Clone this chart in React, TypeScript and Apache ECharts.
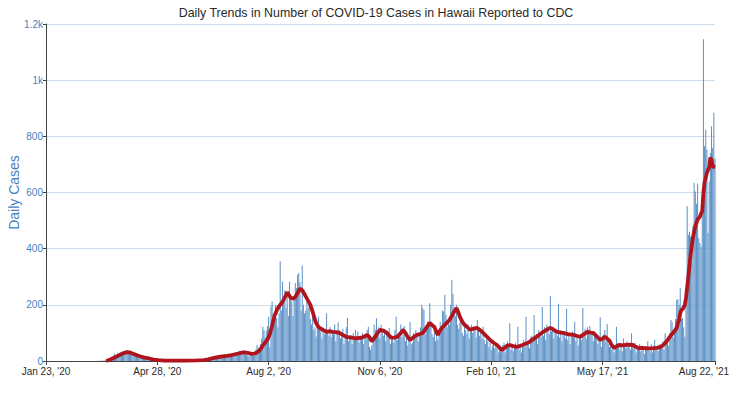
import React, { useEffect, useRef } from "react";
import * as echarts from "echarts";

// Daily cases, one value per day starting Jan 23, 2020 (day 0)
const cases2020: number[] = [
  0,0,0,0,0,0,0,0,0,0, 0,0,0,0,0,0,0,0,0,0, 0,0,0,0,0,0,0,0,0,0, 0,0,0,0,0,0,0,0,0,0,
  0,0,0,0,1,0,1,0,2,1,
  2,3,4,6,7,8,14,10,18,26,
  20,15,29,25,30,33,34,28,25,31,
  38,36,28,24,26,22,30,24,18,14,
  12,16,14,10,12,9,8,6,5,7,
  4,3,2,3,1,2,1,0,2,1,
  1,0,2,1,0,1,3,0,1,0,
  0,1,1,0,2,0,1,2,0,1,
  2,0,1,3,4,1,2,5,2,1,
  3,2,5,4,6,3,2,7,8,4,
  10,7,12,15,9,6,16,11,18,14,
  12,20,17,9,15,24,22,18,13,26,
  24,28,17,20,32,30,23,36,29,24,
  38,33,22,25,20,19,30,24,21,18,
  28,40,57,45,50,60,80,122,110,85,
  109,124,158,49,194,212,140,170,200,153,
  120,170,355,180,283,220,253,190,242,160,
  282,230,212,160,225,278,260,307,313,280,
  180,340,200,170,180,210,190,200,150,130,
  188,110,120,87,125,158,110,105,80,120,
  95,115,170,100,90,120,85,111,95,130,
  70,100,137,110,80,95,115,60,90,120,
  153,70,80,93,60,100,80,110,75,105,
  65,90,80,99,60,95,85,110,122,50,
  40,55,90,130,110,152,100,120,80,129,
  110,90,105,70,95,85,118,60,75,90,
  65,110,158,75,100,95,130,85,118,125,
  70,90,55,80,140,60,65,100,85,110,
  100,70,90,120,200,188,182,95,110,140,
  120,206,130,95,85,110,70,111,75,100,
  140,125,179,176,
];

// Daily cases, Jan 1, 2021 (day 344) to Aug 22, 2021 (day 577)
const cases2021: number[] = [
  236,164,120,150,130,200,
  289,239,180,160,200,130,115,140,146,100,
  90,122,110,95,130,80,105,129,100,120,
  110,85,146,120,90,100,80,122,75,60,
  90,70,50,65,40,55,70,45,60,45,
  30,50,35,40,57,65,30,45,70,55,
  134,40,60,35,50,65,45,122,40,55,
  30,60,75,50,158,60,70,45,85,90,
  70,164,75,95,60,110,100,85,192,90,
  120,75,130,110,95,232,105,120,80,115,
  100,90,204,85,110,70,100,95,80,185,
  75,100,60,90,105,85,140,70,95,55,
  80,90,75,190,100,115,80,120,110,125,
  95,105,70,90,100,85,60,80,156,50,
  75,95,110,70,132,60,50,75,40,55,
  30,45,122,50,60,40,65,35,80,55,
  45,70,50,60,40,99,55,45,65,30,
  50,40,60,35,55,45,25,50,40,70,
  45,35,60,30,55,75,40,50,35,60,
  45,55,70,40,99,65,80,55,100,146,
  140,85,120,150,218,220,200,259,150,153,
  120,86,200,551,450,460,443,350,480,634,
  604,560,632,438,420,408,560,1146,765,824,
  753,457,640,741,836,759,884,720,
];

// 7-day moving average (day index, value)
const avgDays: number[] = [
  52,56,60,64,67,70,72,75,78,81,
  85,89,93,97,102,110,120,130,136,140,
  144,148,152,156,160,164,168,171,174,178,
  181,183,185,187,189,191,193,195,197,199,
  201,203,205,207,208,210,211,213,215,217,
  219,221,223,224,226,228,230,232,233,235,
  238,242,245,247,250,253,256,259,262,265,
  268,271,274,277,279,281,283,286,288,291,
  294,296,298,300,303,305,308,310,312,314,
  317,320,323,325,328,331,333,335,337,338,
  340,342,345,348,351,354,355,357,359,361,
  364,366,369,372,375,377,380,383,386,389,
  391,393,396,398,400,403,406,409,411,414,
  417,420,423,426,429,432,435,437,439,441,
  444,446,450,455,458,461,464,467,470,472,
  475,478,480,482,484,486,488,490,492,494,
  497,500,503,506,508,511,514,517,520,524,
  527,530,532,534,536,538,540,543,544,545,
  546,547,548,549,551,552,554,556,558,560,
  562,564,566,567,568,570,572,573,574,575,
  577,
];
const avgValues: number[] = [
  0,6,14,22,28,32,31,26,21,17,
  12,9,5,3,1,1,1,2,3,6,
  10,14,16,18,21,25,29,31,29,25,
  28,33,42,55,66,76,95,125,160,180,
  195,205,218,235,245,232,225,222,228,242,
  258,252,238,230,215,200,175,146,135,121,
  112,104,106,104,103,100,93,86,84,82,
  81,82,86,93,85,70,80,100,111,108,
  100,90,82,83,86,95,111,100,85,75,
  85,93,97,100,118,136,128,121,100,93,
  110,121,133,146,168,189,180,157,140,129,
  118,111,116,118,108,100,88,75,65,57,
  48,39,48,55,57,53,50,54,57,62,
  68,77,86,95,104,112,118,114,108,104,
  101,100,96,93,89,86,96,104,101,100,
  88,75,80,86,80,72,56,46,52,57,
  56,57,58,57,52,46,47,46,45,46,
  47,50,56,64,74,86,96,111,118,135,
  146,170,182,184,200,225,300,380,440,480,
  504,514,535,600,636,670,690,725,715,693,
  689,
];

const xTickDays: number[] = [0, 96, 192, 288, 384, 480, 577];
const xTickLabels: string[] = ["Jan 23, '20", "Apr 28, '20", "Aug 2, '20", "Nov 6, '20", "Feb 10, '21", "May 17, '21", "Aug 22, '21"];
const yTickValues: number[] = [0, 200, 400, 600, 800, 1000, 1200];
const yTickLabels: string[] = ["0", "200", "400", "600", "800", "1k", "1.2k"];

const TITLE = "Daily Trends in Number of COVID-19 Cases in Hawaii Reported to CDC";
const FONT = "'Liberation Sans', Arial, Helvetica, sans-serif";

export default function App() {
  const ref = useRef<HTMLDivElement>(null);
  useEffect(() => {
    if (!ref.current) return;
    const chart = echarts.init(ref.current, undefined, { renderer: "svg" });
    const daily = cases2020.concat(cases2021);
    const barData = daily.map((v, i) => [i, v]);
    const n = Math.min(avgDays.length, avgValues.length);
    const lineData: number[][] = [];
    for (let i = 0; i < n; i++) lineData.push([avgDays[i], avgValues[i]]);
    const lastIdx = xTickDays.length - 1;
    chart.setOption({
      animation: false,
      backgroundColor: "#ffffff",
      title: {
        text: TITLE,
        left: 371,
        textAlign: "center",
        top: 2,
        textStyle: { fontFamily: FONT, fontSize: 12.4, fontWeight: "normal", color: "#2a2a2a" },
      },
      grid: { left: 46, right: 15, top: 24, bottom: 36, containLabel: false, outerBoundsMode: "none" },
      xAxis: {
        type: "value",
        min: 0,
        max: 577,
        splitLine: { show: false },
        axisLine: { show: true, lineStyle: { color: "#444", width: 1 } },
        axisTick: { show: true, length: 4, customValues: xTickDays, lineStyle: { color: "#444" } },
        axisLabel: {
          customValues: xTickDays,
          formatter: (v: number) => {
            const idx = xTickDays.indexOf(Math.round(v));
            if (idx < 0) return "";
            return idx === lastIdx ? "{last|" + xTickLabels[idx] + "}" : xTickLabels[idx];
          },
          rich: {
            last: { color: "#2a2a2a", fontFamily: FONT, fontSize: 10, padding: [0, 22, 0, 0] },
          },
          color: "#2a2a2a",
          fontFamily: FONT,
          fontSize: 10,
          margin: 5,
          showMaxLabel: true,
          hideOverlap: false,
        },
      },
      yAxis: {
        type: "value",
        min: 0,
        max: 1200,
        interval: 200,
        name: "Daily Cases",
        nameLocation: "middle",
        nameGap: 25,
        nameMoveOverlap: false,
        nameTextStyle: { color: "#4682c0", fontSize: 14, fontFamily: FONT },
        axisLine: { show: true, lineStyle: { color: "#444", width: 1 } },
        axisTick: { show: true, length: 3, lineStyle: { color: "#444" } },
        axisLabel: {
          color: "#4682c0",
          fontFamily: FONT,
          fontSize: 10,
          margin: 3,
          formatter: (v: number) => {
            const idx = yTickValues.indexOf(v);
            return idx >= 0 ? yTickLabels[idx] : String(v);
          },
        },
        splitLine: { show: true, lineStyle: { color: "#cddcec", width: 1 } },
      },
      series: [
        {
          type: "bar",
          data: barData,
          barWidth: 1,
          itemStyle: { color: "#5a90c5" },
          z: 2,
        },
        {
          type: "line",
          data: lineData,
          showSymbol: false,
          symbol: "none",
          lineStyle: { color: "#b0141d", width: 3.8 },
          z: 3,
        },
      ],
    });
    return () => chart.dispose();
  }, []);
  return <div ref={ref} style={{ position: "fixed", left: 0, top: 0, width: 730, height: 397 }} />;
}
